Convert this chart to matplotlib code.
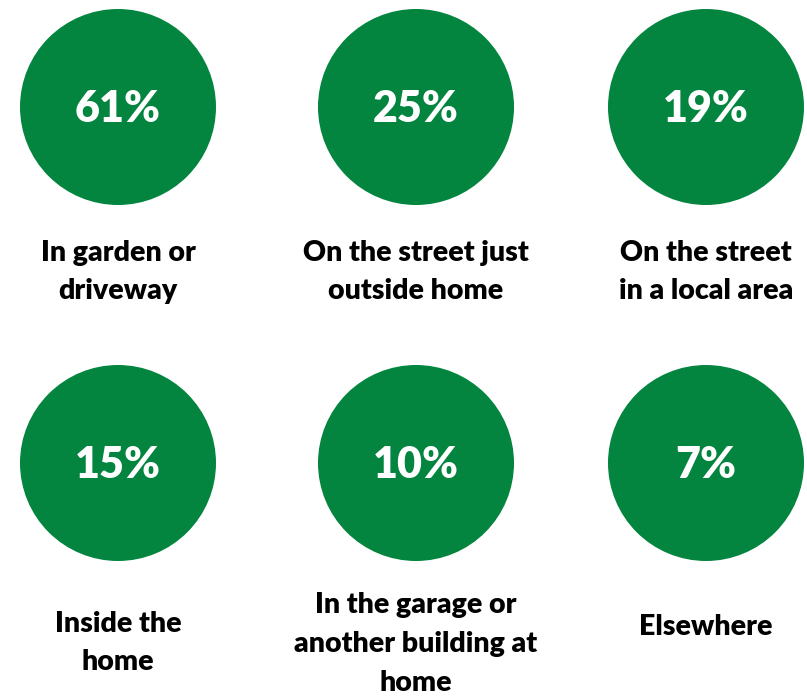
import matplotlib.pyplot as plt
from matplotlib.patches import Circle

# share of responses by location
locations = [
    "In garden or\ndriveway",
    "On the street just\noutside home",
    "On the street\nin a local area",
    "Inside the\nhome",
    "In the garage or\nanother building at\nhome",
    "Elsewhere",
]
percentages = [61, 25, 19, 15, 10, 7]

GREEN = "#03853F"
FONT = "Lato"

# layout in pixel coordinates
col_x = [118, 416, 706]
row_y = [107, 463]
label_y = [[272, 272, 272], [643, 644, 627]]
radius = 98

fig = plt.figure(figsize=(8.07, 6.97), dpi=100)
ax = fig.add_axes([0, 0, 1, 1])
ax.set_xlim(0, 807)
ax.set_ylim(697, 0)
ax.set_aspect("equal")
ax.axis("off")

for i, (loc, pct) in enumerate(zip(locations, percentages)):
    r, c = divmod(i, 3)
    x, y = col_x[c], row_y[r]
    ax.add_patch(Circle((x, y), radius, color=GREEN, lw=0))
    ax.text(x, y + 2, f"{pct}%", color="white", fontsize=31, fontweight="heavy",
            family=FONT, ha="center", va="center")
    ax.text(x, label_y[r][c], loc, color="black", fontsize=20.5, fontweight="heavy",
            family=FONT, ha="center", va="center", linespacing=1.6)

plt.savefig("out.png", dpi=100)
